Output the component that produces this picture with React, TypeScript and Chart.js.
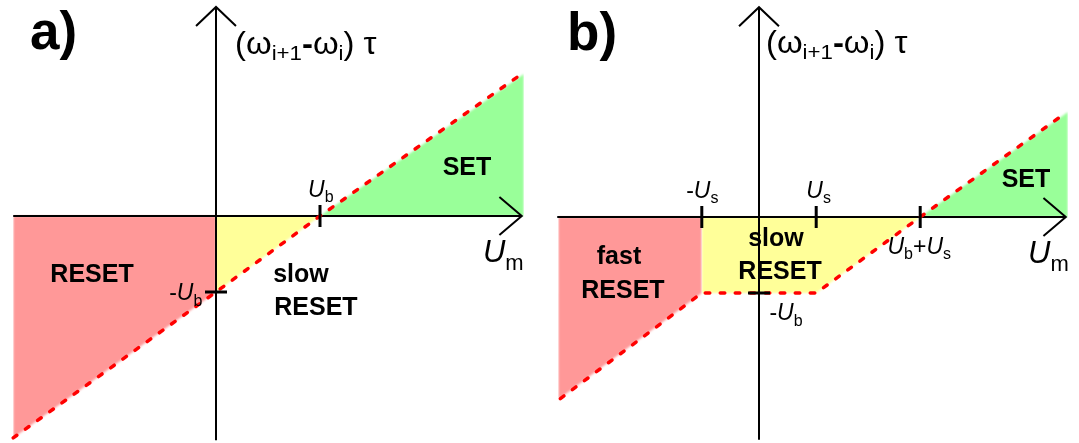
import React, { useEffect, useRef } from 'react';
import { Chart, registerables } from 'chart.js';

Chart.register(...registerables);

const FONT = '"Liberation Sans", Arial, sans-serif';
const BOLD = `bold 25px ${FONT}`;
const TITLE = `bold 53px ${FONT}`;
const UI = `italic 23px ${FONT}`;
const REG = `23px ${FONT}`;
const SUB = `16px ${FONT}`;
const UI_L = `italic 31px ${FONT}`;
const SUB_L = `22px ${FONT}`;
const YL = `31px ${FONT}`;
const YL_B = `bold 31px ${FONT}`;
const YL_S = `21px ${FONT}`;

// ---- Panel a data (voltages in units of U_b) ----
const aAxisU = [-1.95, 2.94];
const aAxisV = [-2.95, 2.75];
const aBoundaryU = [-1.95, 0, 1, 2.93];
const aBoundaryV = [-2.92, -1, 0, 1.86];
const aResetU = [-1.95, 0];
const aResetV = [-2.92, -1];
const aSlowU = [0, 1];
const aSlowV = [-1, 0];
const aSetU = [1, 2.96];
const aSetV = [0, 1.87];
const aTicksU = [1];
const aTicksV = [-1];

// ---- Panel b data (U_s = 0.55 U_b) ----
const bAxisU = [-1.94, 2.95];
const bAxisV = [-2.93, 2.76];
const bBoundaryU = [-1.91, -0.55, 0.55, 1.55, 2.95];
const bBoundaryV = [-2.39, -1, -1, 0, 1.37];
const bResetU = [-1.93, -0.55];
const bResetV = [-2.4, -1];
const bSlowU = [-0.55, 0.55, 1.55];
const bSlowV = [-1, -1, 0];
const bSetU = [1.55, 2.97];
const bSetV = [0, 1.38];
const bTicksU = [-0.55, 0.55, 1.55];
const bTicksV = [-1];

const RED_FILL = 'rgb(255,152,152)';
const YELLOW_FILL = 'rgb(255,255,153)';
const GREEN_FILL = 'rgb(153,255,153)';

type Part = { t: string; f: string; dy?: number };
type Label = { u: number; v: number; align: 'left' | 'center' | 'right'; parts: Part[]; sx?: number };

const yLabel: Part[] = [
  { t: '(', f: YL },
  { t: 'ω', f: YL },
  { t: 'i+1', f: YL_S, dy: 6 },
  { t: '-', f: YL_B },
  { t: 'ω', f: YL },
  { t: 'i', f: YL_S, dy: 6 },
  { t: ')', f: YL },
  { t: ' τ', f: YL },
];
const umLabel: Part[] = [
  { t: 'U', f: UI_L },
  { t: 'm', f: SUB_L, dy: 8 },
];

const aLabels: Label[] = [
  { u: -1.788, v: 2.197, align: 'left', parts: [{ t: 'a)', f: TITLE }] },
  { u: 0.183, v: 2.132, align: 'left', parts: yLabel, sx: 1.06 },
  { u: 2.413, v: 0.539, align: 'center', parts: [{ t: 'SET', f: BOLD }] },
  { u: -1.192, v: -0.868, align: 'center', parts: [{ t: 'RESET', f: BOLD }] },
  { u: 0.55, v: -0.868, align: 'left', parts: [{ t: 'slow', f: BOLD }] },
  { u: 0.56, v: -1.303, align: 'left', parts: [{ t: 'RESET', f: BOLD }] },
  { u: 2.567, v: -0.605, align: 'left', parts: umLabel },
  { u: 0.885, v: 0.25, align: 'left', parts: [{ t: 'U', f: UI }, { t: 'b', f: SUB, dy: 5 }] },
  { u: -0.45, v: -1.105, align: 'left', parts: [{ t: '-', f: REG }, { t: 'U', f: UI }, { t: 'b', f: SUB, dy: 6 }] },
];

const bLabels: Label[] = [
  { u: -1.846, v: 2.197, align: 'left', parts: [{ t: 'b)', f: TITLE }] },
  { u: 0.067, v: 2.158, align: 'left', parts: yLabel, sx: 1.06 },
  { u: 2.567, v: 0.395, align: 'center', parts: [{ t: 'SET', f: BOLD }] },
  { u: -1.346, v: -0.618, align: 'center', parts: [{ t: 'fast', f: BOLD }] },
  { u: -1.308, v: -1.066, align: 'center', parts: [{ t: 'RESET', f: BOLD }] },
  { u: 0.163, v: -0.382, align: 'center', parts: [{ t: 'slow', f: BOLD }] },
  { u: 0.202, v: -0.816, align: 'center', parts: [{ t: 'RESET', f: BOLD }] },
  { u: -0.7, v: 0.25, align: 'left', parts: [{ t: '-', f: REG }, { t: 'U', f: UI }, { t: 's', f: SUB, dy: 5 }] },
  { u: 0.455, v: 0.25, align: 'left', parts: [{ t: 'U', f: UI }, { t: 's', f: SUB, dy: 5 }] },
  {
    u: 1.235, v: -0.487, align: 'left',
    parts: [{ t: 'U', f: UI }, { t: 'b', f: SUB, dy: 5 }, { t: '+', f: REG }, { t: 'U', f: UI }, { t: 's', f: SUB, dy: 5 }],
  },
  { u: 0.1, v: -1.355, align: 'left', parts: [{ t: '-', f: REG }, { t: 'U', f: UI }, { t: 'b', f: SUB, dy: 6 }] },
  { u: 2.587, v: -0.605, align: 'left', parts: umLabel },
];

const pts = (us: number[], vs: number[]) => us.map((u, i) => ({ x: u, y: vs[i] }));

function drawRich(ctx: CanvasRenderingContext2D, parts: Part[], x: number, y: number, align: string, sx = 1) {
  let w = 0;
  for (const p of parts) {
    ctx.font = p.f;
    w += ctx.measureText(p.t).width;
  }
  w *= sx;
  const start = align === 'center' ? x - w / 2 : align === 'right' ? x - w : x;
  ctx.save();
  ctx.translate(start, y);
  ctx.scale(sx, 1);
  let cx = 0;
  for (const p of parts) {
    ctx.font = p.f;
    ctx.fillText(p.t, cx, p.dy || 0);
    cx += ctx.measureText(p.t).width;
  }
  ctx.restore();
}

type PanelCfg = {
  axisU: number[]; axisV: number[];
  boundaryU: number[]; boundaryV: number[];
  regions: { u: number[]; v: number[]; color: string }[];
  ticksU: number[]; ticksV: number[];
  labels: Label[];
  xMin: number; xMax: number; yMin: number; yMax: number;
};

function buildConfig(c: PanelCfg): any {
  const ds: any[] = [];
  const base = { pointRadius: 0, pointHoverRadius: 0, fill: false, tension: 0 };
  const black = (data: any[], w: number, order: number) => ({
    ...base, data, borderColor: '#000', borderWidth: w, order,
    borderJoinStyle: 'miter', borderCapStyle: 'butt',
  });
  // tick marks
  c.ticksU.forEach((u) => ds.push(black([{ x: u, y: -0.145 }, { x: u, y: 0.145 }], 3, 0)));
  c.ticksV.forEach((v) => ds.push(black([{ x: -0.106, y: v }, { x: 0.106, y: v }], 3, 0)));
  // dashed boundary
  ds.push({
    ...base, data: pts(c.boundaryU, c.boundaryV), borderColor: '#ff0000', borderWidth: 3.5,
    borderDash: [4.5, 10.5], borderCapStyle: 'round', order: 1,
  });
  // axes
  ds.push(black([{ x: c.axisU[0], y: 0 }, { x: c.axisU[1], y: 0 }], 2, 2));
  ds.push(black([{ x: 0, y: c.axisV[0] }, { x: 0, y: c.axisV[1] }], 2, 2));
  // arrowheads
  const tipX = c.axisU[1];
  ds.push(black([{ x: tipX - 0.215, y: 0.25 }, { x: tipX, y: 0 }, { x: tipX - 0.215, y: -0.25 }], 2, 2));
  const tipY = c.axisV[1];
  ds.push(black([{ x: -0.192, y: tipY - 0.25 }, { x: 0, y: tipY }, { x: 0.192, y: tipY - 0.25 }], 2, 2));
  // filled regions
  c.regions.forEach((r) =>
    ds.push({
      ...base, data: pts(r.u, r.v), borderColor: 'rgba(0,0,0,0)', borderWidth: 0,
      backgroundColor: r.color, fill: 'origin', order: 10,
    })
  );

  const plugin = {
    id: 'diagram',
    beforeDraw(chart: any) {
      const ctx = chart.ctx as CanvasRenderingContext2D;
      ctx.save();
      ctx.fillStyle = '#fff';
      ctx.fillRect(0, 0, chart.width, chart.height);
      ctx.restore();
      ctx.save();
      ctx.filter = 'blur(1.3px)';
    },
    beforeDatasetsDraw(chart: any) {
      chart.ctx.restore();
    },
    afterDraw(chart: any) {
      const ctx = chart.ctx as CanvasRenderingContext2D;
      const xs = chart.scales.x, ys = chart.scales.y;
      ctx.save();
      ctx.fillStyle = '#000';
      ctx.textBaseline = 'alphabetic';
      ctx.textAlign = 'left';
      for (const l of c.labels) {
        drawRich(ctx, l.parts, xs.getPixelForValue(l.u), ys.getPixelForValue(l.v), l.align, l.sx || 1);
      }
      ctx.restore();
    },
  };

  return {
    type: 'line',
    data: { datasets: ds },
    options: {
      animation: false,
      responsive: false,
      devicePixelRatio: 1,
      layout: { padding: 0 },
      events: [],
      scales: {
        x: { type: 'linear', min: c.xMin, max: c.xMax, display: false },
        y: { type: 'linear', min: c.yMin, max: c.yMax, display: false },
      },
      plugins: {
        legend: { display: false },
        tooltip: { enabled: false },
        filler: { drawTime: 'beforeDatasetsDraw' },
      },
    },
    plugins: [plugin],
  };
}

const panelA: PanelCfg = {
  axisU: aAxisU, axisV: aAxisV, boundaryU: aBoundaryU, boundaryV: aBoundaryV,
  regions: [
    { u: aResetU, v: aResetV, color: RED_FILL },
    { u: aSlowU, v: aSlowV, color: YELLOW_FILL },
    { u: aSetU, v: aSetV, color: GREEN_FILL },
  ],
  ticksU: aTicksU, ticksV: aTicksV, labels: aLabels,
  xMin: -216 / 104, xMax: (540 - 216) / 104, yMin: -(443 - 216) / 76, yMax: 216 / 76,
};

const panelB: PanelCfg = {
  axisU: bAxisU, axisV: bAxisV, boundaryU: bBoundaryU, boundaryV: bBoundaryV,
  regions: [
    { u: bResetU, v: bResetV, color: RED_FILL },
    { u: bSlowU, v: bSlowV, color: YELLOW_FILL },
    { u: bSetU, v: bSetV, color: GREEN_FILL },
  ],
  ticksU: bTicksU, ticksV: bTicksV, labels: bLabels,
  xMin: -219 / 104, xMax: (539 - 219) / 104, yMin: -(443 - 217) / 76, yMax: 217 / 76,
};

function Panel({ width, cfg }: { width: number; cfg: PanelCfg }) {
  const ref = useRef<HTMLCanvasElement>(null);
  useEffect(() => {
    if (!ref.current) return;
    const chart = new Chart(ref.current, buildConfig(cfg));
    return () => chart.destroy();
  }, [cfg]);
  return <canvas ref={ref} width={width} height={443} style={{ display: 'block', width, height: 443 }} />;
}

export default function App() {
  return (
    <div style={{ position: 'absolute', left: 0, top: 0, width: 1079, height: 443, display: 'flex', background: '#fff' }}>
      <Panel width={540} cfg={panelA} />
      <Panel width={539} cfg={panelB} />
    </div>
  );
}
